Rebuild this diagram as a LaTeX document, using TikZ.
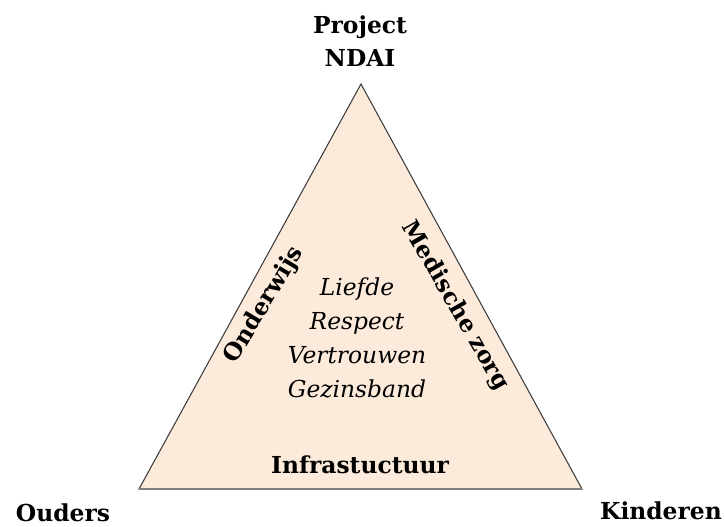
\documentclass[tikz,border=0pt]{standalone}
\usepackage{fontspec}
\setmainfont{DejaVu Serif}
\usepackage{tikz}

\definecolor{peach}{RGB}{252,234,218}
\definecolor{edge}{RGB}{60,60,60}

\begin{document}
\begin{tikzpicture}[x = 0.02cm, y = -0.02cm, line width = 0.6pt,
								corner/.style = {font = \fontsize{13.3}{19}\selectfont\bfseries,
								align = center, inner sep = 0pt},
								side/.style = {font = \fontsize{13.3}{19}\selectfont\bfseries,
								inner sep = 0pt},
								core/.style = {font = \fontsize{13.3}{19.2}\selectfont\itshape,
								align = center, inner sep = 0pt},
								]
				\useasboundingbox (0,0) rectangle (725,527);

				\coordinate (top) at (361,84);
				\coordinate (left) at (139,489);
				\coordinate (right) at (582,489);

				\filldraw [fill = peach, draw = edge] (top) -- (right) -- (left) -- cycle;
				\draw [gray, line width = 1.5pt] (left) -- (right);

				\node [corner] (project) at (360,41) {Project\\NDAI};
				\node [corner] (ouders) at (63,513) {Ouders};
				\node [corner] (kinderen) at (661,511) {Kinderen};

				\node [side, rotate = 59] (onderwijs) at (264,305) {Onderwijs};
				\node [side, rotate = -60] (zorg) at (455,306) {Medische zorg};
				\node [side] (infra) at (360,465) {Infrastuctuur};

				\node [core] (waarden) at (357,338)
				{Liefde\\Respect\\Vertrouwen\\Gezinsband};
			\end{tikzpicture}
\end{document}
